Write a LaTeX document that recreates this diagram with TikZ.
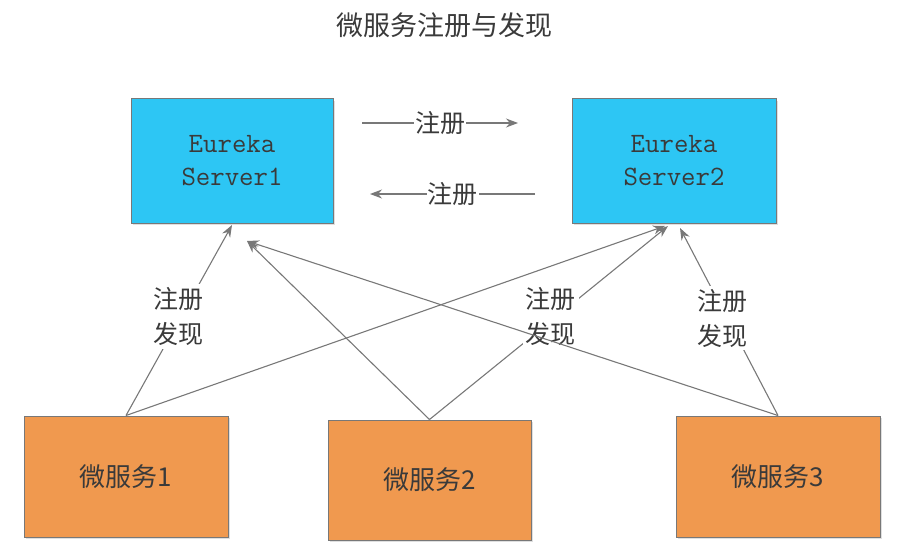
\documentclass[tikz,border=0pt]{standalone}
\usepackage{fontspec}
\newfontfamily\cjk{Noto Sans CJK SC}
\usetikzlibrary{arrows.meta,shadows}
\definecolor{srvblue}{HTML}{2DC6F4}
\definecolor{svcorange}{HTML}{F0994F}
\definecolor{edgegray}{HTML}{787878}
\definecolor{txtgray}{HTML}{3A3A3A}
\begin{document}
\begin{tikzpicture}[x=1pt,y=-1pt,
  box/.style={draw=edgegray,line width=1pt,inner sep=0pt,
    drop shadow={shadow xshift=1.5pt,shadow yshift=-2pt,opacity=0.25,fill=gray}},
  server/.style={box,fill=srvblue,minimum height=124pt,align=center,
    font=\ttfamily\fontsize{28}{33}\selectfont,text=txtgray},
  svc/.style={box,fill=svcorange,minimum height=121pt,
    font=\cjk\fontsize{26}{30}\selectfont,text=txtgray},
  conn/.style={draw=edgegray,line width=1.1pt,-{Stealth[length=12pt,width=9pt]}},
  lbl/.style={fill=white,inner sep=3pt,align=center,
    font=\cjk\fontsize{25}{35}\selectfont,text=txtgray},
  hlbl/.style={fill=white,inner sep=1pt,
    font=\cjk\fontsize{25}{30}\selectfont,text=txtgray},
  ttl/.style={font=\cjk\fontsize{27}{30}\selectfont,text=txtgray}]
\useasboundingbox (0,0) rectangle (910,559);

\node[ttl] (title) at (444,25) {微服务注册与发现};

\node[server,minimum width=202pt] (s1) at (232,161) {Eureka\\Server1};
\node[server,minimum width=204pt] (s2) at (674,161) {Eureka\\Server2};

\node[svc,minimum width=204pt] (m1) at (126,476.5) {微服务1};
\node[svc,minimum width=203pt,minimum height=120pt] (m2) at (429.5,480) {微服务2};
\node[svc,minimum width=204pt] (m3) at (778,476.5) {微服务3};

% arrow end points
\coordinate (s1a) at (232,225);
\coordinate (s1b) at (247,241);
\coordinate (s2a) at (665,226);
\coordinate (s2b) at (668,226);
\coordinate (s2c) at (680,228);

% horizontal registration arrows
\coordinate (h1s) at (362,123);
\coordinate (h1e) at (518,123);
\coordinate (h2s) at (535,194);
\coordinate (h2e) at (370,194);
\draw[conn] (h1s) -- node[hlbl] {注册} (h1e);
\draw[conn] (h2s) -- node[hlbl] {注册} (h2e);

% labelled arrows
\draw[conn] (m1.north) -- node[lbl,pos=0.52,xshift=-3pt] {注册\\发现} (s1a);
\draw[conn] (m2.north) -- node[lbl,pos=0.53,xshift=-5pt] {注册\\发现} (s2b);
\draw[conn] (m3.north) -- node[lbl,pos=0.52,xshift=-5pt] {注册\\发现} (s2c);

% crossing arrows
\draw[conn] (m1.north) -- (s2a);
\draw[conn] (m2.north) -- (s1b);
\draw[conn] (m3.north) -- (s1b);
\end{tikzpicture}
\end{document}
